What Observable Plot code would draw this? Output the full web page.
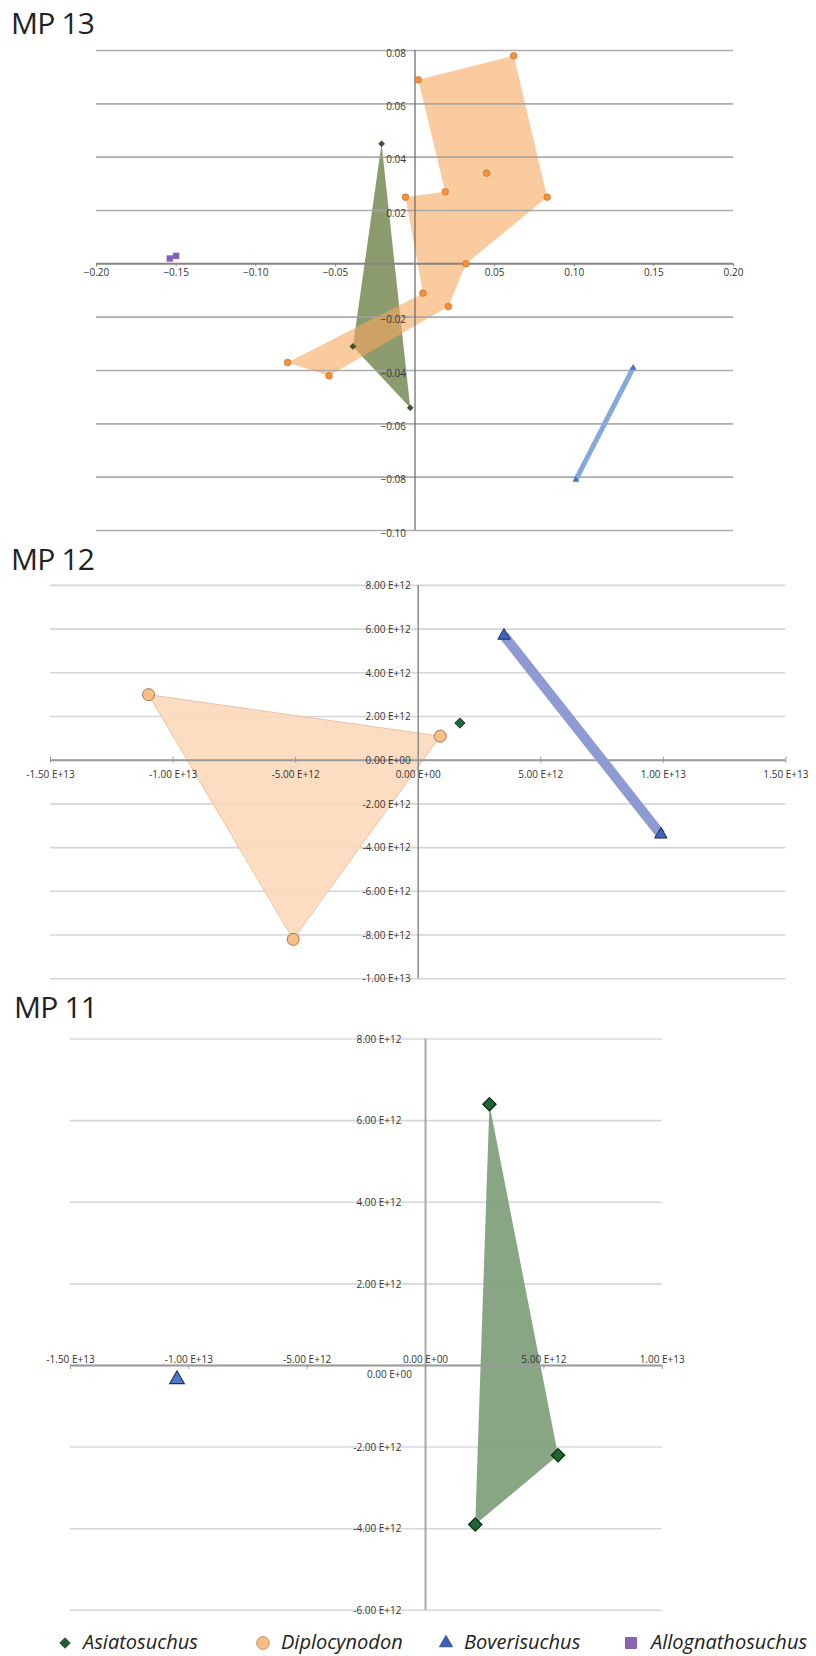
<!DOCTYPE html>
<html>
<head>
<meta charset="utf-8">
<script src="https://cdn.jsdelivr.net/npm/d3@7"></script>
<script src="https://cdn.jsdelivr.net/npm/@observablehq/plot@0.6"></script>
<style>
  body { margin: 0; background: #fff; }
  #page { position: relative; width: 816px; height: 1656px; overflow: hidden; font-family: "Open Sans", sans-serif; }
  .title { position: absolute; font-size: 30px; line-height: 1; letter-spacing: -0.8px; color: #222; white-space: nowrap; }
  .panel { position: absolute; left: 0; }
  .panel svg { display: block; }
  .legend-item { position: absolute; top: 1632px; height: 22px; font-size: 20px; line-height: 1; font-style: italic; color: #222; white-space: nowrap; }
  .legend-item svg { position: absolute; top: 3px; }
</style>
</head>
<body>
<div id="page"></div>
<script>
// Taxa shown in the legend
const taxa = ["Asiatosuchus", "Diplocynodon", "Boverisuchus", "Allognathosuchus"];

// ---- MP 13 (scores) ----
const mp13Asiatosuchus = [
  {x: -0.021, y: 0.045}, {x: -0.039, y: -0.031}, {x: -0.003, y: -0.054}
];
// Diplocynodon outline, in drawing order around the shape
const mp13DiplocynodonOutline = [
  {x: 0.002, y: 0.069}, {x: 0.062, y: 0.078}, {x: 0.083, y: 0.025},
  {x: 0.032, y: 0.000}, {x: 0.021, y: -0.016}, {x: -0.054, y: -0.042},
  {x: -0.080, y: -0.037}, {x: 0.005, y: -0.011}, {x: -0.006, y: 0.025},
  {x: 0.019, y: 0.027}
];
const mp13DiplocynodonInner = [{x: 0.045, y: 0.034}];
const mp13Boverisuchus = [{x: 0.137, y: -0.039}, {x: 0.101, y: -0.081}];
const mp13Allognathosuchus = [{x: -0.154, y: 0.002}, {x: -0.150, y: 0.003}];
const mp13XTicks = [-0.20, -0.15, -0.10, -0.05, 0.05, 0.10, 0.15, 0.20];
const mp13YTicks = [0.08, 0.06, 0.04, 0.02, -0.02, -0.04, -0.06, -0.08, -0.10];

// ---- MP 12 ----
const mp12Asiatosuchus = [{x: 1.7e12, y: 1.7e12}];
const mp12Diplocynodon = [
  {x: -1.1e13, y: 3.0e12}, {x: 0.9e12, y: 1.1e12}, {x: -5.1e12, y: -8.2e12}
];
const mp12Boverisuchus = [{x: 3.5e12, y: 5.7e12}, {x: 9.9e12, y: -3.4e12}];
const mp12XTicks = [-1.5e13, -1e13, -5e12, 0, 5e12, 1e13, 1.5e13];
const mp12YTicks = [8e12, 6e12, 4e12, 2e12, 0, -2e12, -4e12, -6e12, -8e12, -1e13];

// ---- MP 11 ----
const mp11Asiatosuchus = [
  {x: 2.7e12, y: 6.4e12}, {x: 5.6e12, y: -2.2e12}, {x: 2.1e12, y: -3.9e12}
];
const mp11Boverisuchus = [{x: -1.05e13, y: -3.4e11}];
const mp11XTicks = [-1.5e13, -1e13, -5e12, 0, 5e12, 1e13];
const mp11YTicks = [8e12, 6e12, 4e12, 2e12, 0, -2e12, -4e12, -6e12];

// Label formats
const fmtFixed = d3.format(".2f");
function fmtSci(v) {
  const [m, e] = v.toExponential(2).split("e");
  const sign = e[0] === "-" ? "-" : "+";
  return `${m} E${sign}${e.replace(/^[+-]/, "").padStart(2, "0")}`;
}
const closed = (pts) => [...pts, pts[0]];

const page = document.getElementById("page");
const baseStyle = {
  background: "transparent",
  overflow: "visible",
  fontFamily: "'Open Sans', sans-serif",
  fontSize: "10px",
  color: "#333"
};

function place(el, top) {
  const wrap = document.createElement("div");
  wrap.className = "panel";
  wrap.style.top = top + "px";
  wrap.appendChild(el);
  page.appendChild(wrap);
}
function addTitle(text, left, top) {
  const t = document.createElement("div");
  t.className = "title";
  t.textContent = text;
  t.style.left = left + "px";
  t.style.top = top + "px";
  page.appendChild(t);
}

// ---------- MP 13 ----------
const plot13 = Plot.plot({
  width: 816, height: 550,
  marginLeft: 96, marginRight: 83, marginTop: 50, marginBottom: 20,
  x: {domain: [-0.2, 0.2], axis: null},
  y: {domain: [-0.1, 0.08], axis: null},
  style: baseStyle,
  marks: [
    // group outlines
    Plot.line(closed(mp13Asiatosuchus), {x: "x", y: "y", fill: "#8c9b6d", stroke: "none"}),
    Plot.line(closed(mp13DiplocynodonOutline), {x: "x", y: "y", fill: "#f8a860", fillOpacity: 0.6, stroke: "none"}),
    // grid and axes
    Plot.ruleY(mp13YTicks, {stroke: "#a3a3a3", strokeWidth: 1.6, strokeOpacity: 0.9}),
    Plot.ruleX([0], {stroke: "#666", strokeWidth: 1.2}),
    Plot.ruleY([0], {stroke: "#858585", strokeWidth: 2}),
    Plot.ruleX(mp13XTicks, {y1: 0, y2: 0, insetBottom: -3, stroke: "#858585", strokeWidth: 1}),
    Plot.text(mp13XTicks, {x: (d) => d, y: 0, text: fmtFixed, dy: 9, fill: "#333"}),
    Plot.text(mp13YTicks, {x: 0, y: (d) => d, text: fmtFixed, textAnchor: "end", dx: -9, dy: 3, fill: "#333"}),
    // specimens
    Plot.line(mp13Boverisuchus, {x: "x", y: "y", stroke: "#86a8dc", strokeWidth: 5, strokeLinecap: "butt"}),
    Plot.dot([...mp13DiplocynodonOutline, ...mp13DiplocynodonInner], {x: "x", y: "y", r: 3.3, fill: "#f3923b", stroke: "#cf742c", strokeWidth: 0.8}),
    Plot.dot(mp13Asiatosuchus, {x: "x", y: "y", symbol: "diamond2", r: 2.7, fill: "#35552a", stroke: "#2a4420", strokeWidth: 0.6}),
    Plot.dot(mp13Boverisuchus, {x: "x", y: "y", symbol: "triangle", r: 2.5, fill: "#4a72c4", stroke: "none"}),
    Plot.dot(mp13Allognathosuchus, {x: "x", y: "y", symbol: "square", r: 3.6, fill: "#8562b5", stroke: "none"})
  ]
});
place(plot13, 0);
addTitle("MP 13", 11, 8);

// ---------- MP 12 ----------
const plot12 = Plot.plot({
  width: 816, height: 440,
  marginLeft: 50, marginRight: 30.6, marginTop: 24.9, marginBottom: 21.8,
  x: {domain: [-1.5e13, 1.5e13], axis: null},
  y: {domain: [-1e13, 8e12], axis: null},
  style: baseStyle,
  marks: [
    Plot.ruleY(mp12YTicks, {stroke: "#d6d6d6", strokeWidth: 1.6}),
    Plot.line(closed(mp12Diplocynodon), {x: "x", y: "y", fill: "#fcd9bb", fillOpacity: 0.9, stroke: "#eac2a0", strokeWidth: 1}),
    Plot.ruleX([0], {stroke: "#8a8a8a", strokeWidth: 1.5}),
    Plot.ruleY([0], {stroke: "#9a9a9a", strokeWidth: 2}),
    Plot.ruleX(mp12XTicks, {y1: 0, y2: 0, insetTop: -3, insetBottom: -3, stroke: "#9a9a9a", strokeWidth: 1}),
    Plot.text(mp12XTicks, {x: (d) => d, y: 0, text: fmtSci, dy: 14.5, fill: "#333"}),
    Plot.text(mp12YTicks, {x: 0, y: (d) => d, text: fmtSci, textAnchor: "end", dx: -7.5, dy: 0.5, fill: "#333"}),
    Plot.line(mp12Boverisuchus, {x: "x", y: "y", stroke: "#8e9ad2", strokeWidth: 10, strokeLinecap: "butt"}),
    Plot.dot(mp12Diplocynodon, {x: "x", y: "y", r: 6, fill: "#fbbf88", stroke: "#a8754a", strokeWidth: 1}),
    Plot.dot(mp12Asiatosuchus, {x: "x", y: "y", symbol: "diamond2", r: 4.6, fill: "#1f6b34", stroke: "#123d1d", strokeWidth: 1}),
    Plot.dot(mp12Boverisuchus, {x: "x", y: "y", symbol: "triangle", r: 4.6, fill: "#3f63b8", stroke: "#1d2f60", strokeWidth: 1})
  ]
});
place(plot12, 560);
addTitle("MP 12", 11, 544);

// ---------- MP 11 ----------
const plot11 = Plot.plot({
  width: 816, height: 630,
  marginLeft: 70, marginRight: 154.3, marginTop: 38.5, marginBottom: 20.2,
  x: {domain: [-1.5e13, 1e13], axis: null},
  y: {domain: [-6e12, 8e12], axis: null},
  style: baseStyle,
  marks: [
    Plot.ruleY(mp11YTicks, {stroke: "#d8d8d8", strokeWidth: 1.6}),
    Plot.line(closed(mp11Asiatosuchus), {x: "x", y: "y", fill: "#82a07d", fillOpacity: 0.95, stroke: "none"}),
    Plot.ruleX([0], {stroke: "#a8a8a8", strokeWidth: 2}),
    Plot.ruleY([0], {stroke: "#9a9a9a", strokeWidth: 2}),
    Plot.ruleX(mp11XTicks, {y1: 0, y2: 0, insetBottom: -4, stroke: "#9a9a9a", strokeWidth: 1}),
    Plot.text(mp11XTicks, {x: (d) => d, y: 0, text: fmtSci, dy: -6, fill: "#333"}),
    Plot.text(mp11YTicks.filter((d) => d !== 0), {x: 0, y: (d) => d, text: fmtSci, textAnchor: "end", dx: -24, dy: 0.5, fill: "#333"}),
    Plot.text(mp11YTicks.filter((d) => d === 0), {x: 0, y: (d) => d, text: fmtSci, textAnchor: "end", dx: -13.5, dy: 9.5, fill: "#333"}),
    Plot.dot(mp11Asiatosuchus, {x: "x", y: "y", symbol: "diamond2", r: 6, fill: "#1e6631", stroke: "#0d2a14", strokeWidth: 1.2}),
    Plot.dot(mp11Boverisuchus, {x: "x", y: "y", symbol: "triangle", r: 5.4, fill: "#4e78c8", stroke: "#1d2f60", strokeWidth: 1.2})
  ]
});
place(plot11, 1000);
addTitle("MP 11", 14, 992);

// ---------- Legend ----------
const legendSymbols = [
  {type: d3.symbolDiamond2, size: 70, fill: "#1f5e2f", stroke: "#123d1d"},
  {type: d3.symbolCircle, size: 130, fill: "#fabb87", stroke: "#b88a62"},
  {type: d3.symbolTriangle, size: 75, fill: "#3c5fb8", stroke: "#2a4690"},
  {type: d3.symbolSquare, size: 120, fill: "#8c64b4", stroke: "#6e4c94"}
];
const legendLeft = [57, 255, 438, 623];
taxa.forEach((name, i) => {
  const s = legendSymbols[i];
  const item = document.createElement("div");
  item.className = "legend-item";
  item.style.left = legendLeft[i] + "px";
  const svg = d3.create("svg").attr("width", 16).attr("height", 16).style("left", "0px");
  svg.append("path")
    .attr("transform", "translate(8,8)")
    .attr("d", d3.symbol(s.type, s.size)())
    .attr("fill", s.fill)
    .attr("stroke", s.stroke)
    .attr("stroke-width", 0.8);
  item.appendChild(svg.node());
  const label = document.createElement("span");
  label.textContent = name;
  label.style.marginLeft = (i === 3 ? 28 : 26) + "px";
  item.appendChild(label);
  page.appendChild(item);
});
</script>
</body>
</html>
